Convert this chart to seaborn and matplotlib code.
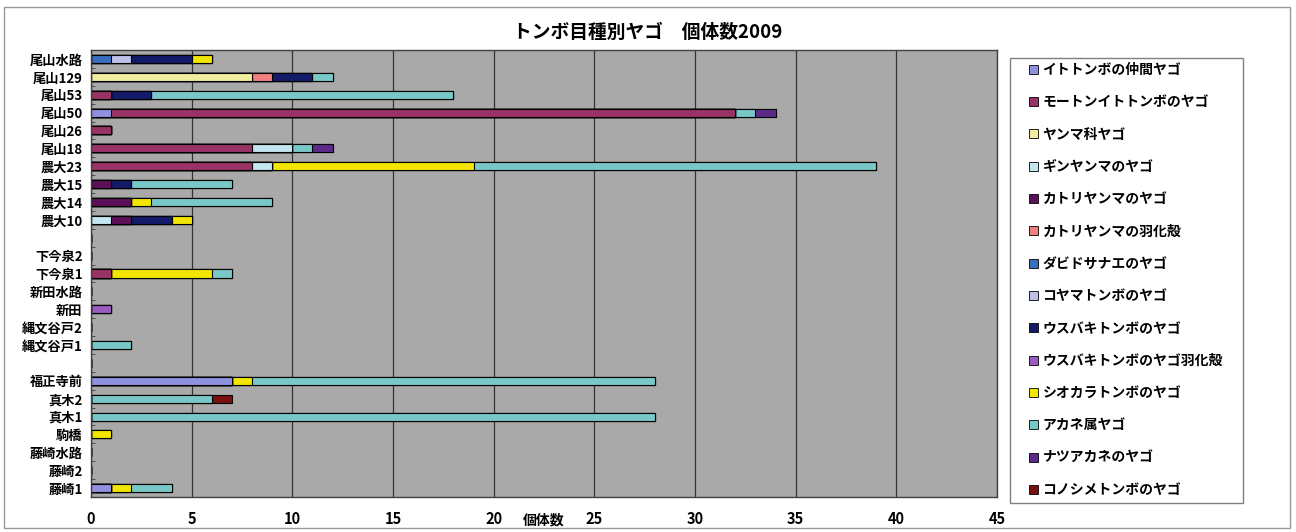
import numpy as np
import pandas as pd
import matplotlib
matplotlib.use("Agg")
import matplotlib.pyplot as plt
import seaborn as sns
from matplotlib.patches import Patch, Rectangle

# sites, top to bottom (two blank spacer rows)
sites = [
    "尾山水路", "尾山129", "尾山53", "尾山50", "尾山26", "尾山18",
    "農大23", "農大15", "農大14", "農大10", " ",
    "下今泉2", "下今泉1", "新田水路", "新田", "縄文谷戸2", "縄文谷戸1", "  ",
    "福正寺前", "真木2", "真木1", "駒橋", "藤崎水路", "藤崎2", "藤崎1",
]

species = [
    "イトトンボの仲間ヤゴ", "モートンイトトンボのヤゴ", "ヤンマ科ヤゴ",
    "ギンヤンマのヤゴ", "カトリヤンマのヤゴ", "カトリヤンマの羽化殻",
    "ダビドサナエのヤゴ", "コヤマトンボのヤゴ", "ウスバキトンボのヤゴ",
    "ウスバキトンボのヤゴ羽化殻", "シオカラトンボのヤゴ", "アカネ属ヤゴ",
    "ナツアカネのヤゴ", "コノシメトンボのヤゴ",
]

colors = [
    "#9090e0", "#993366", "#f0ee9c", "#c4e6f0", "#5c1058", "#f08080",
    "#3a6fc0", "#c0c0ec", "#141a6a", "#9a5cc0", "#f2e600", "#78c8c8",
    "#5e2a8a", "#7a1010",
]

# counts per site, same order as sites
itotonbo    = [0, 0, 0, 1, 0, 0, 0, 0, 0, 0, 0, 0, 0, 0, 0, 0, 0, 0, 7, 0, 0, 0, 0, 0, 1]
morton      = [0, 0, 1, 31, 1, 8, 8, 0, 0, 0, 0, 0, 1, 0, 0, 0, 0, 0, 0, 0, 0, 0, 0, 0, 0]
yanma       = [0, 8, 0, 0, 0, 0, 0, 0, 0, 0, 0, 0, 0, 0, 0, 0, 0, 0, 0, 0, 0, 0, 0, 0, 0]
ginyanma    = [0, 0, 0, 0, 0, 2, 1, 0, 0, 1, 0, 0, 0, 0, 0, 0, 0, 0, 0, 0, 0, 0, 0, 0, 0]
katori      = [0, 0, 0, 0, 0, 0, 0, 1, 2, 1, 0, 0, 0, 0, 0, 0, 0, 0, 0, 0, 0, 0, 0, 0, 0]
katori_uka  = [0, 1, 0, 0, 0, 0, 0, 0, 0, 0, 0, 0, 0, 0, 0, 0, 0, 0, 0, 0, 0, 0, 0, 0, 0]
dabido      = [1, 0, 0, 0, 0, 0, 0, 0, 0, 0, 0, 0, 0, 0, 0, 0, 0, 0, 0, 0, 0, 0, 0, 0, 0]
koyama      = [1, 0, 0, 0, 0, 0, 0, 0, 0, 0, 0, 0, 0, 0, 0, 0, 0, 0, 0, 0, 0, 0, 0, 0, 0]
usubaki     = [3, 2, 2, 0, 0, 0, 0, 1, 0, 2, 0, 0, 0, 0, 0, 0, 0, 0, 0, 0, 0, 0, 0, 0, 0]
usubaki_uka = [0, 0, 0, 0, 0, 0, 0, 0, 0, 0, 0, 0, 0, 0, 1, 0, 0, 0, 0, 0, 0, 0, 0, 0, 0]
shiokara    = [1, 0, 0, 0, 0, 0, 10, 0, 1, 1, 0, 0, 5, 0, 0, 0, 0, 0, 1, 0, 0, 1, 0, 0, 1]
akane       = [0, 1, 15, 1, 0, 1, 20, 5, 6, 0, 0, 0, 1, 0, 0, 0, 2, 0, 20, 6, 28, 0, 0, 0, 2]
natsuakane  = [0, 0, 0, 1, 0, 1, 0, 0, 0, 0, 0, 0, 0, 0, 0, 0, 0, 0, 0, 0, 0, 0, 0, 0, 0]
konoshime   = [0, 0, 0, 0, 0, 0, 0, 0, 0, 0, 0, 0, 0, 0, 0, 0, 0, 0, 0, 1, 0, 0, 0, 0, 0]

counts = [itotonbo, morton, yanma, ginyanma, katori, katori_uka, dabido, koyama,
          usubaki, usubaki_uka, shiokara, akane, natsuakane, konoshime]

df = pd.DataFrame(np.array(counts).T, index=sites, columns=species)
cum = df.cumsum(axis=1)

plt.rcParams["font.family"] = ["Noto Sans CJK JP", "DejaVu Sans"]
plt.rcParams["font.weight"] = "bold"

fig = plt.figure(figsize=(12.96, 5.32), dpi=100)
ax = fig.add_axes([91 / 1296, 1 - 497 / 532, 906 / 1296, 447 / 532])
ax.set_facecolor("#a9a9a9")

# stacked bars: draw cumulative totals from last species to first
for k in reversed(range(len(species))):
    sns.barplot(
        x=cum[species[k]].values,
        y=sites,
        order=sites,
        orient="h",
        color=colors[k],
        saturation=1,
        width=0.45,
        edgecolor="black",
        linewidth=0.8,
        ax=ax,
    )

ax.set_xlim(0, 45)
ax.set_ylim(len(sites) - 0.5, -0.5)
ax.set_xticks(range(0, 46, 5))
ax.grid(axis="x", color="#333333", linewidth=0.9)
ax.grid(axis="y", visible=False)
ax.set_axisbelow(True)
for s in ax.spines.values():
    s.set_color("#404040")
    s.set_linewidth(1)

ax.tick_params(axis="x", length=0, pad=10, labelsize=10.5)
ax.tick_params(axis="y", length=0, pad=6, labelsize=9.5)
ax.set_yticks(np.arange(len(sites) + 1) - 0.5, minor=True)
ax.tick_params(axis="y", which="minor", direction="in", length=3, color="#404040")
for t in ax.get_xticklabels() + ax.get_yticklabels():
    t.set_fontweight("bold")

ax.set_ylabel("")
ax.set_xlabel("個体数", fontsize=10, fontweight="bold")
ax.xaxis.set_label_coords(0.5, -0.036)

fig.text(0.5, 1 - 32 / 532, "トンボ目種別ヤゴ　個体数2009",
         ha="center", va="center", fontsize=13.5, fontweight="bold")

# legend box
fig.patches.append(Rectangle((1010 / 1296, 1 - 503 / 532), 233 / 1296, 445 / 532,
                             transform=fig.transFigure, fill=False,
                             edgecolor="#808080", linewidth=1))
handles = [Patch(facecolor=c, edgecolor="black", linewidth=0.6) for c in colors]
fig.legend(handles, species, loc="upper left",
           bbox_to_anchor=(1029 / 1296, 1 - 63 / 532),
           frameon=False, borderpad=0, borderaxespad=0,
           labelspacing=1.32, handlelength=0.62, handleheight=0.62,
           handletextpad=0.35, prop={"size": 10, "weight": "bold"})

# outer chart frame
fig.patches.append(Rectangle((4 / 1296, 4 / 532), 1286 / 1296, 521 / 532,
                             transform=fig.transFigure, fill=False,
                             edgecolor="#999999", linewidth=1))

fig.savefig("out.png", dpi=100)
